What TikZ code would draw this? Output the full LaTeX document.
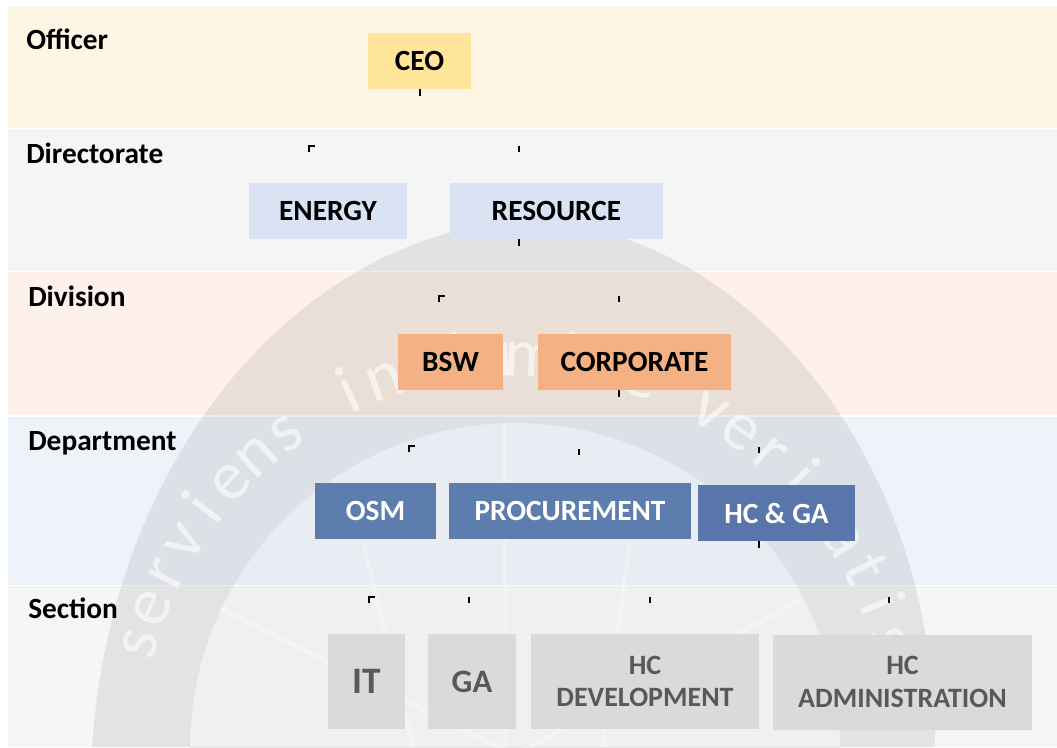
\documentclass[tikz,border=0pt]{standalone}
\usepackage{fontspec}
\setmainfont{Carlito}
\usetikzlibrary{calc}
\definecolor{bandOff}{HTML}{FEF6E4}
\definecolor{bandDir}{HTML}{F5F5F5}
\definecolor{bandDiv}{HTML}{FDF1E9}
\definecolor{bandDep}{HTML}{EEF3FA}
\definecolor{bandSec}{HTML}{F6F6F6}
\definecolor{ceoC}{HTML}{FFE599}
\definecolor{dirC}{HTML}{DAE3F3}
\definecolor{divC}{HTML}{F4B183}
\definecolor{depC}{HTML}{5D7DAF}
\definecolor{depD}{HTML}{5876A9}
\definecolor{secC}{HTML}{DADADA}
\definecolor{secT}{HTML}{595959}
\begin{document}
\begin{tikzpicture}[x=0.75pt,y=-0.75pt,
  lbl/.style={anchor=base west, inner sep=0pt, font=\fontsize{22}{22}\selectfont\bfseries},
  orgbox/.style={draw=none, inner sep=0pt, align=center, font=\fontsize{22}{24.5}\selectfont\bfseries},
  secbox/.style={orgbox, fill=secC, text=secT, minimum height={95*0.75pt}},
  stub/.style={line width=1.5pt, black},
  wmletter/.style={anchor=base, inner sep=0pt, text=white, font=\fontsize{52}{52}\selectfont},
]
\useasboundingbox (0,0) rectangle (1057,747);
\fill[white] (0,0) rectangle (1057,747);
% bands
\fill[bandOff] (8,7) rectangle (1057,127.5);
\fill[bandDir] (8,129) rectangle (1057,270.5);
\fill[bandDiv] (8,272) rectangle (1057,414.5);
\fill[bandDep] (8,416.5) rectangle (1057,584.5);
\fill[bandSec] (8,586) rectangle (1057,747);
% watermark
\begin{scope}
\clip (0,0) rectangle (1057,747);
\fill[black, opacity=0.075, even odd rule] (92,747) .. controls (115,420) and (335,222) .. (530,222) .. controls (720,222) and (935,430) .. (935,747) -- cycle (515,748) circle[radius=325];
\fill[black, opacity=0.025] (515,748) circle[radius=325];
\begin{scope}[white, opacity=0.3, line width=3pt]
\draw (505,424) -- (505,747);
\draw (220,608) -- (515,755);
\draw (800,600) -- (515,755);
\draw (363,541) -- (413,747);
\draw (630,541) -- (603,747);
\end{scope}
\begin{scope}[opacity=0.6]
\foreach \ch/\k in {s/0,e/1,r/2,v/3,i/4,e/5,n/6,s/7,i/9,n/10,l/12,u/13,m/14,i/15,n/16,e/17,v/19,e/20,r/21,i/22,t/23,a/24,t/25,i/26,s/27}{
  \pgfmathsetmacro{\ang}{164.5-\k*5.5}
  \node[wmletter, rotate=\ang-90] at ($(515,748)+(-\ang:372)$) {\ch};
}
\end{scope}
\end{scope}
% level labels
\node[lbl] (lOff) at (26,49) {Officer};
\node[lbl] (lDir) at (26,163) {Directorate};
\node[lbl] (lDiv) at (28,306) {Division};
\node[lbl] (lDep) at (28,450) {Department};
\node[lbl] (lSec) at (28,618) {Section};
% boxes
\node[orgbox, fill=ceoC, minimum width={103*0.75pt}, minimum height={56*0.75pt}] (ceo) at (419.5,61) {CEO};
\node[orgbox, fill=dirC, minimum width={158*0.75pt}, minimum height={56*0.75pt}] (energy) at (328,211) {ENERGY};
\node[orgbox, fill=dirC, minimum width={213*0.75pt}, minimum height={56*0.75pt}] (resource) at (556.5,211) {RESOURCE};
\node[orgbox, fill=divC, minimum width={105*0.75pt}, minimum height={56*0.75pt}] (bsw) at (450.5,362) {BSW};
\node[orgbox, fill=divC, minimum width={193*0.75pt}, minimum height={56*0.75pt}] (corp) at (634.5,362) {CORPORATE};
\node[orgbox, fill=depC, text=white, minimum width={121*0.75pt}, minimum height={56*0.75pt}] (osm) at (375.5,511) {OSM};
\node[orgbox, fill=depC, text=white, minimum width={242*0.75pt}, minimum height={56*0.75pt}] (proc) at (570,511) {PROCUREMENT};
\node[orgbox, fill=depD, text=white, minimum width={157*0.75pt}, minimum height={56*0.75pt}] (hcga) at (776.5,513) {HC \& GA};
\node[secbox, minimum width={77*0.75pt}, font=\fontsize{28}{28}\selectfont\bfseries] (it) at (366.5,681.5) {IT};
\node[secbox, minimum width={88*0.75pt}, font=\fontsize{24.5}{24.5}\selectfont\bfseries] (ga) at (472,681.5) {GA};
\node[secbox, minimum width={228*0.75pt}, font=\fontsize{21}{24.5}\selectfont\bfseries] (hcdev) at (645,681.5) {HC\\DEVELOPMENT};
\node[secbox, minimum width={259*0.75pt}, font=\fontsize{21}{25}\selectfont\bfseries] (hcadm) at (902.5,682) {HC\\ADMINISTRATION};
% connector stubs (only fragments visible)
\coordinate (cDirL) at (309,146);
\coordinate (cDirR) at (519,146);
\coordinate (cDivL) at (439,296);
\coordinate (cDivR) at (619,296);
\coordinate (cDepL) at (409,446);
\coordinate (cDepM) at (579,449);
\coordinate (cDepR) at (759,447);
\coordinate (cSecL) at (369,597);
\coordinate (cSecA) at (469,597);
\coordinate (cSecB) at (650,597);
\coordinate (cSecC) at (889,597);
\draw[stub] (ceo.south) -- ++(0,7);
\draw[stub] ([xshift={-37.5*0.75pt}]resource.south) -- ++(0,7);
\draw[stub] ([xshift={-15.5*0.75pt}]corp.south) -- ++(0,7);
\draw[stub] ([xshift={-17.5*0.75pt}]hcga.south) -- ++(0,7);
\draw[stub] ($(cDirL)+(0,6)$) -- (cDirL) -- ++(6,0);
\draw[stub] (cDirR) -- ++(0,6);
\draw[stub] ($(cDivL)+(0,6)$) -- (cDivL) -- ++(6,0);
\draw[stub] (cDivR) -- ++(0,6);
\draw[stub] ($(cDepL)+(0,6)$) -- (cDepL) -- ++(6,0);
\draw[stub] (cDepM) -- ++(0,6);
\draw[stub] (cDepR) -- ++(0,6);
\draw[stub] ($(cSecL)+(0,6)$) -- (cSecL) -- ++(6,0);
\draw[stub] (cSecA) -- ++(0,6);
\draw[stub] (cSecB) -- ++(0,6);
\draw[stub] (cSecC) -- ++(0,6);
\end{tikzpicture}
\end{document}
